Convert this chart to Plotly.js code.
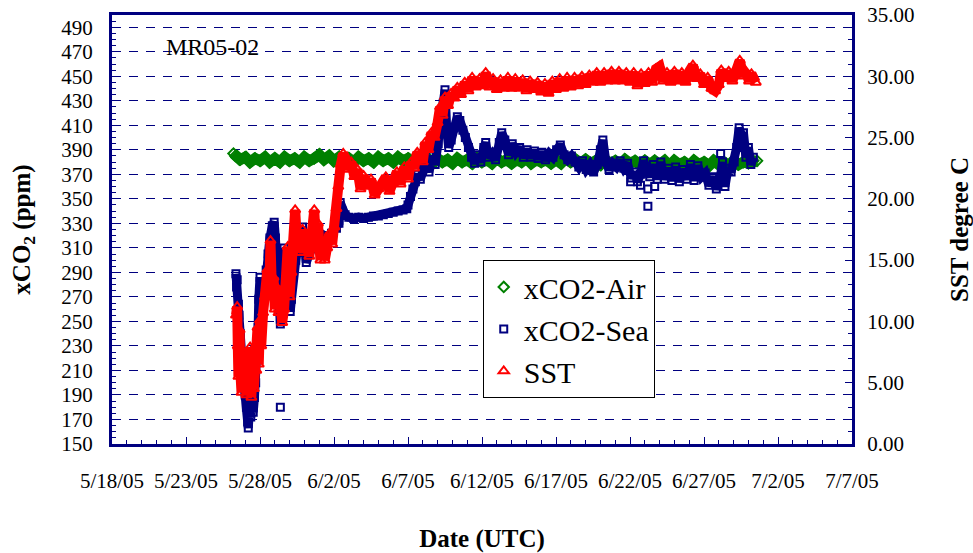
<!DOCTYPE html>
<html>
<head>
<meta charset="utf-8">
<script src="https://cdn.plot.ly/plotly-3.0.1.min.js"></script>
<style>html,body{margin:0;padding:0;background:#fff;}#chart{width:973px;height:553px;}</style>
</head>
<body>
<div id="chart"></div>
<script>
// ---- xCO2-Air (ppm) ----
const airTimes = [
'2005-05-26 05','2005-05-26 08','2005-05-26 16',
'2005-05-27 00','2005-05-27 08','2005-05-27 16',
'2005-05-28 00','2005-05-28 08','2005-05-28 16',
'2005-05-29 00','2005-05-29 08','2005-05-29 16',
'2005-05-30 00','2005-05-30 08','2005-05-30 16',
'2005-05-31 00','2005-05-31 08','2005-05-31 16',
'2005-06-01 00','2005-06-01 08','2005-06-01 16',
'2005-06-02 00','2005-06-02 08','2005-06-02 16',
'2005-06-03 00','2005-06-03 08','2005-06-03 16',
'2005-06-04 00','2005-06-04 08','2005-06-04 16',
'2005-06-05 00','2005-06-05 08','2005-06-05 16',
'2005-06-06 00','2005-06-06 08','2005-06-06 16',
'2005-06-07 00','2005-06-07 08','2005-06-07 16',
'2005-06-08 00','2005-06-08 08','2005-06-08 16',
'2005-06-09 00','2005-06-09 08','2005-06-09 16',
'2005-06-10 00','2005-06-10 08','2005-06-10 16',
'2005-06-11 00','2005-06-11 08','2005-06-11 16',
'2005-06-12 00','2005-06-12 08','2005-06-12 16',
'2005-06-13 00','2005-06-13 08','2005-06-13 16',
'2005-06-14 00','2005-06-14 08','2005-06-14 16',
'2005-06-15 00','2005-06-15 08','2005-06-15 16',
'2005-06-16 00','2005-06-16 08','2005-06-16 16',
'2005-06-17 00','2005-06-17 08','2005-06-17 16',
'2005-06-18 00','2005-06-18 08','2005-06-18 16',
'2005-06-19 00','2005-06-19 08','2005-06-19 16',
'2005-06-20 00','2005-06-20 08','2005-06-20 16',
'2005-06-21 00','2005-06-21 08','2005-06-21 16',
'2005-06-22 00','2005-06-22 08','2005-06-22 16',
'2005-06-23 00','2005-06-23 08','2005-06-23 16',
'2005-06-24 00','2005-06-24 08','2005-06-24 16',
'2005-06-25 00','2005-06-25 08','2005-06-25 16',
'2005-06-26 00','2005-06-26 08','2005-06-26 16',
'2005-06-27 00','2005-06-27 08','2005-06-27 16',
'2005-06-28 00','2005-06-28 08','2005-06-28 16',
'2005-06-29 00','2005-06-29 08','2005-06-29 16',
'2005-06-30 00','2005-06-30 08','2005-06-30 14'
];
const airValues = [
387,385,382, 384,380,383, 381,384,380, 383,380,384, 381,383,380, 384,381,383,
386,382,385, 381,384,380, 383,380,384, 381,383,380, 384,381,383, 380,384,381,
383,380,383, 380,383,379, 383,380,382, 379,383,380, 382,379,383, 380,382,379,
383,380,382, 379,382,380, 383,379,382, 380,382,379, 382,379,383, 380,382,379,
382,379,381, 378,382,379, 381,378,382, 379,381,378, 381,378,381, 378,381,377,
381,378,380, 377,381,378, 380,377,381, 378,380,377, 381,378,380, 379,381,381
];

// ---- xCO2-Sea (ppm) ----
const seaTimes = [
'2005-05-26 09','2005-05-26 10','2005-05-26 11','2005-05-26 13','2005-05-26 14','2005-05-26 16',
'2005-05-26 18','2005-05-26 20','2005-05-26 22','2005-05-27 00','2005-05-27 02','2005-05-27 04',
'2005-05-27 05','2005-05-27 07','2005-05-27 09','2005-05-27 11','2005-05-27 13','2005-05-27 15',
'2005-05-27 17','2005-05-27 19','2005-05-27 21','2005-05-27 22','2005-05-28 00','2005-05-28 02',
'2005-05-28 04','2005-05-28 07','2005-05-28 10','2005-05-28 13','2005-05-28 16','2005-05-28 20',
'2005-05-28 23','2005-05-29 01','2005-05-29 03','2005-05-29 05','2005-05-29 07','2005-05-29 09',
'2005-05-29 11','2005-05-29 13','2005-05-29 15','2005-05-29 17','2005-05-29 19','2005-05-29 21',
'2005-05-29 23','2005-05-30 01','2005-05-30 03','2005-05-30 06','2005-05-30 10','2005-05-30 14',
'2005-05-30 18','2005-05-30 21','2005-05-31 00','2005-05-31 03','2005-05-31 08','2005-05-31 14',
'2005-05-31 20','2005-06-01 02','2005-06-01 08','2005-06-01 14','2005-06-01 20','2005-06-02 04',
'2005-06-02 08','2005-06-02 10','2005-06-02 13','2005-06-02 18','2005-06-03 00','2005-06-03 08',
'2005-06-03 16','2005-06-04 00','2005-06-04 08','2005-06-04 16','2005-06-05 00','2005-06-05 08',
'2005-06-05 16','2005-06-06 00','2005-06-06 08','2005-06-06 16','2005-06-06 22','2005-06-07 00',
'2005-06-07 04','2005-06-07 08','2005-06-07 12','2005-06-07 16','2005-06-07 20','2005-06-08 00',
'2005-06-08 05','2005-06-08 10','2005-06-08 15','2005-06-08 20','2005-06-09 01','2005-06-09 05',
'2005-06-09 09','2005-06-09 12','2005-06-09 15','2005-06-09 18','2005-06-09 22','2005-06-10 03',
'2005-06-10 08','2005-06-10 12','2005-06-10 17','2005-06-10 21','2005-06-11 02','2005-06-11 07',
'2005-06-11 12','2005-06-11 17','2005-06-11 22','2005-06-12 03','2005-06-12 06','2005-06-12 10',
'2005-06-12 16','2005-06-12 22','2005-06-13 04','2005-06-13 08','2005-06-13 13','2005-06-13 19',
'2005-06-14 01','2005-06-14 07','2005-06-14 13','2005-06-14 19','2005-06-15 01','2005-06-15 07',
'2005-06-15 13','2005-06-15 19','2005-06-16 01','2005-06-16 07','2005-06-16 13','2005-06-16 19',
'2005-06-17 01','2005-06-17 07','2005-06-17 13','2005-06-17 19','2005-06-18 01','2005-06-18 07',
'2005-06-18 13','2005-06-18 19','2005-06-19 01','2005-06-19 07','2005-06-19 13','2005-06-19 19',
'2005-06-20 00','2005-06-20 04','2005-06-20 09','2005-06-20 14','2005-06-20 20','2005-06-21 02',
'2005-06-21 08','2005-06-21 14','2005-06-21 20','2005-06-22 02','2005-06-22 07','2005-06-22 12',
'2005-06-22 17','2005-06-22 22','2005-06-23 02','2005-06-23 08','2005-06-23 14','2005-06-23 20',
'2005-06-24 02','2005-06-24 08','2005-06-24 14','2005-06-24 20','2005-06-25 02','2005-06-25 08',
'2005-06-25 14','2005-06-25 20','2005-06-26 02','2005-06-26 08','2005-06-26 14','2005-06-26 20',
'2005-06-27 02','2005-06-27 08','2005-06-27 14','2005-06-27 20','2005-06-28 02','2005-06-28 06',
'2005-06-28 10','2005-06-28 15','2005-06-28 20','2005-06-29 01','2005-06-29 05','2005-06-29 09',
'2005-06-29 12','2005-06-29 16','2005-06-29 20','2005-06-30 00','2005-06-30 04','2005-06-30 08'
];
const seaValues = [
289,278,284,264,255,240,
225,210,198,190,180,168,
163,178,172,185,176,188,
200,220,245,268,286,262,
250,270,292,305,318,328,
331,318,300,280,262,248,
270,300,310,292,305,286,
275,258,268,290,300,312,
320,327,312,298,305,312,
318,315,320,318,322,326,
330,347,340,337,335,334,
335,334,335,336,336,337,
338,339,340,341,342,345,
352,358,364,370,366,374,
380,372,385,378,395,414,
428,439,405,392,398,408,
417,414,406,400,392,384,
379,386,380,392,396,384,
387,382,396,404,398,386,
395,388,392,384,390,384,
389,383,388,382,387,384,
390,394,386,382,385,380,
376,381,374,378,372,378,
390,398,380,374,379,376,
381,375,379,367,372,364,
370,381,376,368,378,366,
380,366,375,365,376,364,
374,366,378,365,377,368,
371,361,368,358,366,380,
360,375,372,380,392,408,
402,404,384,392,378,384
];
// isolated xCO2-Sea samples away from the main band
const seaOutlierTimes = ['2005-05-29 09','2005-06-22 01','2005-06-22 17','2005-06-23 05','2005-06-23 05','2005-06-23 16','2005-06-28 03'];
const seaOutlierValues = [180,364,361,358,344,360,387];

// ---- SST (degree C) ----
const sstTimes = [
'2005-05-26 09','2005-05-26 11','2005-05-26 12','2005-05-26 13','2005-05-26 15','2005-05-26 16',
'2005-05-26 18','2005-05-26 20','2005-05-26 22','2005-05-27 00','2005-05-27 02','2005-05-27 04',
'2005-05-27 06','2005-05-27 08','2005-05-27 10','2005-05-27 12','2005-05-27 14','2005-05-27 16',
'2005-05-27 18','2005-05-27 20','2005-05-27 22','2005-05-28 00','2005-05-28 02','2005-05-28 05',
'2005-05-28 08','2005-05-28 12','2005-05-28 15','2005-05-28 17','2005-05-28 19','2005-05-28 22',
'2005-05-29 00','2005-05-29 03','2005-05-29 06','2005-05-29 09','2005-05-29 12','2005-05-29 15',
'2005-05-29 18','2005-05-29 21','2005-05-30 00','2005-05-30 03','2005-05-30 06','2005-05-30 09',
'2005-05-30 12','2005-05-30 15','2005-05-30 18','2005-05-30 21','2005-05-31 00','2005-05-31 04',
'2005-05-31 08','2005-05-31 12','2005-05-31 16','2005-05-31 19','2005-05-31 22','2005-06-01 02',
'2005-06-01 05','2005-06-01 09','2005-06-01 13','2005-06-01 17','2005-06-01 21','2005-06-02 01',
'2005-06-02 04','2005-06-02 07','2005-06-02 11','2005-06-02 15','2005-06-02 19','2005-06-02 23',
'2005-06-03 04','2005-06-03 09','2005-06-03 14','2005-06-03 19','2005-06-04 00','2005-06-04 06',
'2005-06-04 12','2005-06-04 18','2005-06-05 00','2005-06-05 06','2005-06-05 12','2005-06-05 18',
'2005-06-06 00','2005-06-06 06','2005-06-06 12','2005-06-06 18','2005-06-07 00','2005-06-07 05',
'2005-06-07 10','2005-06-07 15','2005-06-07 20','2005-06-08 00','2005-06-08 04','2005-06-08 09',
'2005-06-08 14','2005-06-08 19','2005-06-09 00','2005-06-09 04','2005-06-09 08','2005-06-09 12',
'2005-06-09 17','2005-06-09 22','2005-06-10 03','2005-06-10 08','2005-06-10 14','2005-06-10 20',
'2005-06-11 02','2005-06-11 08','2005-06-11 14','2005-06-11 20','2005-06-12 02','2005-06-12 06',
'2005-06-12 12','2005-06-12 18','2005-06-13 00','2005-06-13 06','2005-06-13 12','2005-06-13 18',
'2005-06-14 00','2005-06-14 06','2005-06-14 12','2005-06-14 18','2005-06-15 00','2005-06-15 06',
'2005-06-15 12','2005-06-15 18','2005-06-16 00','2005-06-16 06','2005-06-16 12','2005-06-16 18',
'2005-06-17 00','2005-06-17 06','2005-06-17 12','2005-06-17 18','2005-06-18 00','2005-06-18 06',
'2005-06-18 12','2005-06-18 18','2005-06-19 00','2005-06-19 06','2005-06-19 12','2005-06-19 18',
'2005-06-20 00','2005-06-20 06','2005-06-20 12','2005-06-20 18','2005-06-21 00','2005-06-21 06',
'2005-06-21 12','2005-06-21 18','2005-06-22 00','2005-06-22 06','2005-06-22 12','2005-06-22 18',
'2005-06-23 00','2005-06-23 06','2005-06-23 12','2005-06-23 18','2005-06-24 00','2005-06-24 06',
'2005-06-24 12','2005-06-24 18','2005-06-25 00','2005-06-25 06','2005-06-25 12','2005-06-25 18',
'2005-06-26 00','2005-06-26 06','2005-06-26 12','2005-06-26 18','2005-06-27 00','2005-06-27 06',
'2005-06-27 12','2005-06-27 18','2005-06-28 00','2005-06-28 04','2005-06-28 10','2005-06-28 16',
'2005-06-28 22','2005-06-29 04','2005-06-29 10','2005-06-29 16','2005-06-29 20','2005-06-30 01',
'2005-06-30 05','2005-06-30 12'
];
const sstValues = [
10.5,11.2,8.0,5.5,9.3,6.0,
4.2,7.5,4.8,6.8,4.0,7.0,
4.5,7.9,3.8,6.5,4.5,8.0,
6.0,9.5,6.5,10.1,8.0,10.7,
12.0,14.2,12.5,16.6,13.0,13.6,
11.0,12.8,10.7,11.5,9.9,11.0,
13.0,16.1,12.0,14.0,16.5,19.1,
16.5,17.2,15.6,17.5,15.8,16.5,
15.3,17.0,19.1,16.0,18.0,15.0,
16.6,15.0,16.0,17.2,16.3,17.7,
19.2,21.0,22.8,23.7,23.3,22.4,
23.0,21.8,22.4,20.8,21.9,21.0,
21.6,20.3,20.8,21.2,21.8,20.6,
21.3,22.2,21.2,22.6,21.6,23.0,
22.5,23.8,23.4,23.0,24.6,24.0,
25.4,25.0,26.2,27.5,26.8,28.3,
27.6,28.6,28.2,29.1,28.5,29.5,
28.8,29.9,29.1,29.8,29.2,30.3,
29.1,29.8,28.9,29.7,29.0,29.9,
29.0,29.8,29.0,29.7,28.8,29.6,
28.9,29.5,28.7,29.4,28.6,29.6,
28.9,29.8,29.0,29.9,29.1,29.9,
29.2,30.0,29.3,30.1,29.5,30.3,
29.5,30.3,29.6,30.4,29.6,30.4,
29.6,30.3,29.5,30.3,29.2,30.2,
29.4,30.3,29.5,30.6,30.8,29.6,
30.3,29.5,30.4,29.6,30.3,29.5,
30.4,30.9,29.8,30.2,29.3,29.9,
29.0,28.8,29.3,30.5,29.8,30.4,
29.6,30.6,31.3,30.0,30.4,29.6,
30.2,29.5
];

const NAVY = '#000080';
const serif = 'Liberation Serif, DejaVu Serif, serif';

const traces = [
  {x: airTimes, y: airValues, mode: 'lines', line: {color: '#008000', width: 11}, showlegend: false, hoverinfo: 'skip'},
  {x: airTimes, y: airValues, mode: 'markers', name: 'xCO2-Air',
   marker: {symbol: 'diamond-open', color: '#008000', size: 8, line: {width: 2, color: '#008000'}}},
  {x: seaTimes, y: seaValues, mode: 'lines', line: {color: NAVY, width: 9}, showlegend: false, hoverinfo: 'skip'},
  {x: seaTimes, y: seaValues, mode: 'markers', name: 'xCO2-Sea',
   marker: {symbol: 'square-open', color: NAVY, size: 7, line: {width: 2, color: NAVY}}},
  {x: seaOutlierTimes, y: seaOutlierValues, mode: 'markers', showlegend: false,
   marker: {symbol: 'square-open', color: NAVY, size: 7, line: {width: 2, color: NAVY}}},
  {x: sstTimes, y: sstValues, yaxis: 'y2', mode: 'lines', line: {color: '#FF0000', width: 10}, showlegend: false, hoverinfo: 'skip'},
  {x: sstTimes, y: sstValues, yaxis: 'y2', mode: 'markers', name: 'SST',
   marker: {symbol: 'triangle-up-open', color: '#FF0000', size: 9, line: {width: 2, color: '#FF0000'}}}
];

const axisCommon = {
  showline: true, linecolor: NAVY, linewidth: 3, zeroline: false,
  ticks: 'inside', ticklen: 7, tickwidth: 1, tickcolor: NAVY,
  tickfont: {family: serif, size: 21, color: '#000'}
};

const layout = {
  width: 973, height: 553,
  margin: {l: 112, r: 121, t: 15, b: 109},
  paper_bgcolor: '#fff', plot_bgcolor: '#fff',
  font: {family: serif, color: '#000', size: 21},
  hovermode: false,
  showlegend: true,
  legend: {x: 0.501, y: 0.429, xanchor: 'left', yanchor: 'top',
           bordercolor: '#000', borderwidth: 1, bgcolor: '#fff',
           font: {family: serif, size: 30, color: '#000'}},
  xaxis: Object.assign({}, axisCommon, {
    type: 'date', range: ['2005-05-18', '2005-07-07'],
    tick0: '2005-05-18', dtick: 5 * 86400000, tickformat: '%-m/%-d/%y',
    mirror: true, showgrid: false, ticklabelstandoff: 16,
    minor: {dtick: 86400000, ticks: 'inside', ticklen: 4, tickcolor: NAVY, showgrid: false},
    title: {text: 'Date (UTC)', font: {family: serif, size: 25, weight: 700, color: '#000'}, standoff: 38}
  }),
  yaxis: Object.assign({}, axisCommon, {
    range: [150, 500], tick0: 150, dtick: 20,
    showgrid: true, gridcolor: NAVY, gridwidth: 1, griddash: '9px,8px',
    ticklabelstandoff: 12,
    minor: {dtick: 5, ticks: 'inside', ticklen: 4, tickcolor: NAVY, showgrid: false},
    title: {text: 'xCO<sub>2</sub> (ppm)', font: {family: serif, size: 25, weight: 700, color: '#000'}, standoff: 24}
  }),
  yaxis2: Object.assign({}, axisCommon, {
    overlaying: 'y', side: 'right', range: [0, 35], tick0: 0, dtick: 5, tickformat: '.2f',
    showgrid: false, ticklabelstandoff: 8,
    minor: {dtick: 1, ticks: 'inside', ticklen: 4, tickcolor: NAVY, showgrid: false},
    title: {text: 'SST degree C', font: {family: serif, size: 25, weight: 700, color: '#000'}, standoff: 38}
  }),
  annotations: [
    {text: 'MR05-02', xref: 'paper', yref: 'paper', x: 0.07, y: 0.925, xanchor: 'left', yanchor: 'middle',
     showarrow: false, font: {family: serif, size: 24, color: '#000'}}
  ]
};

Plotly.newPlot('chart', traces, layout, {staticPlot: true, displayModeBar: false});
</script>
</body>
</html>
